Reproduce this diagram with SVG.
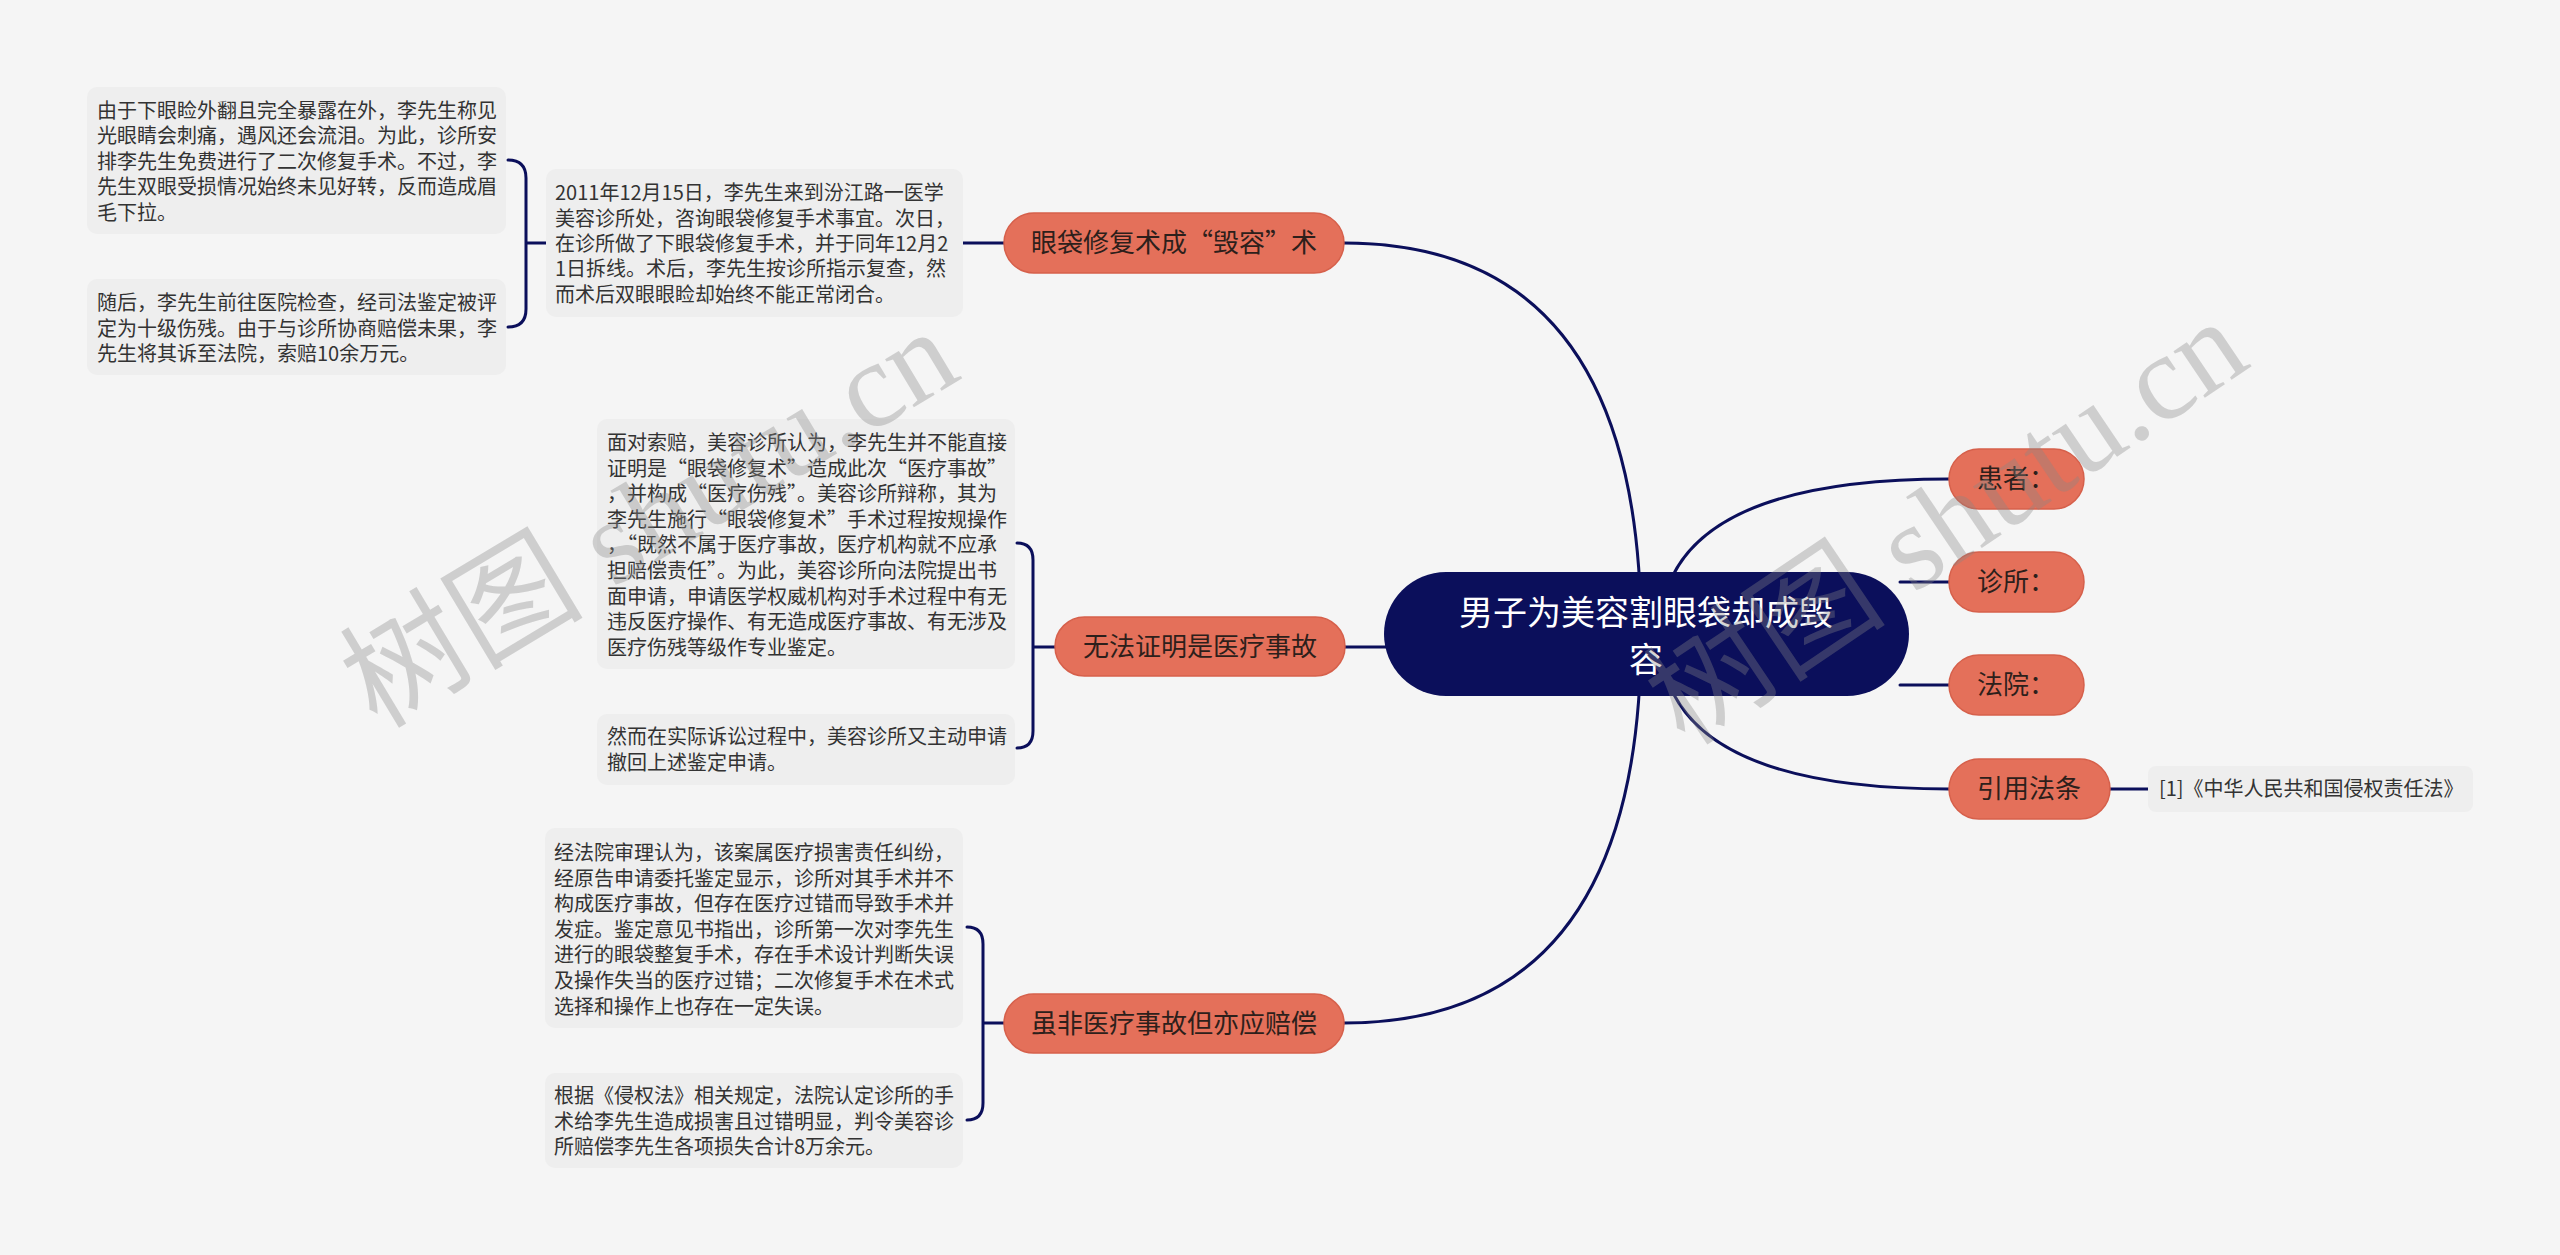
<svg xmlns="http://www.w3.org/2000/svg" width="2560" height="1255" viewBox="0 0 2560 1255">
<style>
.bg{fill:#f5f5f5}
.box{fill:#eeeeee}
.tx{font-family:"Noto Sans CJK SC","Noto Sans",sans-serif;font-size:20px;fill:#333333}
.main{fill:#e4705a;stroke:#d6604b;stroke-width:1.5}
.mt{font-family:"Noto Sans CJK SC","Noto Sans",sans-serif;font-size:26px;fill:#2d1f1b;text-anchor:middle}
.root{fill:#0b0f5b}
.rt{font-family:"Noto Sans CJK SC","Noto Sans",sans-serif;font-size:34px;fill:#ffffff;text-anchor:middle}
.ln{fill:none;stroke:#0b0f5b;stroke-width:3;stroke-linecap:round}
.wm{font-family:"Liberation Serif","Noto Sans CJK SC",serif;font-size:122px;fill:#888888;fill-opacity:0.35;text-anchor:middle}
</style>
<rect class="bg" x="0" y="0" width="2560" height="1255"/>

<g id="connectors">
<path class="ln" d="M1641 634 Q1641 243 1344 243"/>
<path class="ln" d="M1342 647 L1390 647"/>
<path class="ln" d="M1641 634 Q1641 1023 1344 1023"/>
<path class="ln" d="M1660 634 Q1660 479 1949 479"/>
<path class="ln" d="M1900 582 L1949 582"/>
<path class="ln" d="M1900 685 L1949 685"/>
<path class="ln" d="M1660 634 Q1660 789 1949 789"/>
<path class="ln" d="M2110 789 L2148 789"/>
<path class="ln" d="M963 243 L1004 243"/>
<path class="ln" d="M508 160 Q526 160 526 178 L526 309 Q526 327 508 327 M526 243 L546 243"/>
<path class="ln" d="M1017 543 Q1033 543 1033 560 L1033 731 Q1033 748 1017 748 M1033 647 L1055 647"/>
<path class="ln" d="M967 927 Q983 927 983 944 L983 1103 Q983 1120 967 1120 M983 1023 L1004 1023"/>
</g>

<g id="root">
<rect class="root" x="1384" y="572" width="525" height="124" rx="62"/>
<text class="rt" x="1646" y="625">男子为美容割眼袋却成毁</text>
<text class="rt" x="1646" y="672">容</text>
</g>

<g id="node-yandai">
<rect class="main" x="1004" y="213" width="340" height="60" rx="30"/>
<text class="mt" x="1174" y="252">眼袋修复术成“毁容”术</text>
</g>
<g id="node-wufa">
<rect class="main" x="1055" y="617" width="290" height="59" rx="29.5"/>
<text class="mt" x="1200" y="656">无法证明是医疗事故</text>
</g>
<g id="node-suifei">
<rect class="main" x="1004" y="994" width="340" height="59" rx="29.5"/>
<text class="mt" x="1174" y="1033">虽非医疗事故但亦应赔偿</text>
</g>
<g id="node-huanzhe">
<rect class="main" x="1949" y="449" width="135" height="60" rx="30"/>
<text class="mt" x="2016" y="488">患者：</text>
</g>
<g id="node-zhensuo">
<rect class="main" x="1949" y="552" width="135" height="60" rx="30"/>
<text class="mt" x="2016" y="591">诊所：</text>
</g>
<g id="node-fayuan">
<rect class="main" x="1949" y="655" width="135" height="60" rx="30"/>
<text class="mt" x="2016" y="694">法院：</text>
</g>
<g id="node-yinyong">
<rect class="main" x="1949" y="759" width="161" height="60" rx="30"/>
<text class="mt" x="2029" y="798">引用法条</text>
</g>

<g id="leaf-citation">
<rect class="box" x="2148" y="766" width="325" height="46" rx="8"/>
<text class="tx" x="2159" y="796">[1]《中华人民共和国侵权责任法》</text>
</g>

<g id="leaf-2011">
<rect class="box" x="546" y="169" width="417" height="148" rx="10"/>
<text class="tx" x="555">
<tspan x="555" y="200">2011年12月15日，李先生来到汾江路一医学</tspan>
<tspan x="555" y="226">美容诊所处，咨询眼袋修复手术事宜。次日，</tspan>
<tspan x="555" y="251">在诊所做了下眼袋修复手术，并于同年12月2</tspan>
<tspan x="555" y="276">1日拆线。术后，李先生按诊所指示复查，然</tspan>
<tspan x="555" y="302">而术后双眼眼睑却始终不能正常闭合。</tspan>
</text>
</g>

<g id="leaf-youyu">
<rect class="box" x="87" y="87" width="419" height="147" rx="10"/>
<text class="tx">
<tspan x="97" y="118">由于下眼睑外翻且完全暴露在外，李先生称见</tspan>
<tspan x="97" y="143">光眼睛会刺痛，遇风还会流泪。为此，诊所安</tspan>
<tspan x="97" y="169">排李先生免费进行了二次修复手术。不过，李</tspan>
<tspan x="97" y="194">先生双眼受损情况始终未见好转，反而造成眉</tspan>
<tspan x="97" y="220">毛下拉。</tspan>
</text>
</g>

<g id="leaf-suihou">
<rect class="box" x="87" y="279" width="419" height="96" rx="10"/>
<text class="tx">
<tspan x="97" y="310">随后，李先生前往医院检查，经司法鉴定被评</tspan>
<tspan x="97" y="336">定为十级伤残。由于与诊所协商赔偿未果，李</tspan>
<tspan x="97" y="361">先生将其诉至法院，索赔10余万元。</tspan>
</text>
</g>

<g id="leaf-miandui">
<rect class="box" x="597" y="419" width="418" height="250" rx="10"/>
<text class="tx">
<tspan x="607" y="450">面对索赔，美容诊所认为，李先生并不能直接</tspan>
<tspan x="607" y="475.6">证明是“眼袋修复术”造成此次“医疗事故”</tspan>
<tspan x="607" y="501.2">，并构成“医疗伤残”。美容诊所辩称，其为</tspan>
<tspan x="607" y="526.8">李先生施行“眼袋修复术”手术过程按规操作</tspan>
<tspan x="607" y="552.4">，“既然不属于医疗事故，医疗机构就不应承</tspan>
<tspan x="607" y="578">担赔偿责任”。为此，美容诊所向法院提出书</tspan>
<tspan x="607" y="603.6">面申请，申请医学权威机构对手术过程中有无</tspan>
<tspan x="607" y="629.2">违反医疗操作、有无造成医疗事故、有无涉及</tspan>
<tspan x="607" y="654.8">医疗伤残等级作专业鉴定。</tspan>
</text>
</g>

<g id="leaf-raner">
<rect class="box" x="597" y="714" width="418" height="71" rx="10"/>
<text class="tx">
<tspan x="607" y="744">然而在实际诉讼过程中，美容诊所又主动申请</tspan>
<tspan x="607" y="770">撤回上述鉴定申请。</tspan>
</text>
</g>

<g id="leaf-jingfayuan">
<rect class="box" x="545" y="828" width="418" height="200" rx="10"/>
<text class="tx">
<tspan x="554" y="860">经法院审理认为，该案属医疗损害责任纠纷，</tspan>
<tspan x="554" y="885.6">经原告申请委托鉴定显示，诊所对其手术并不</tspan>
<tspan x="554" y="911.2">构成医疗事故，但存在医疗过错而导致手术并</tspan>
<tspan x="554" y="936.8">发症。鉴定意见书指出，诊所第一次对李先生</tspan>
<tspan x="554" y="962.4">进行的眼袋整复手术，存在手术设计判断失误</tspan>
<tspan x="554" y="988">及操作失当的医疗过错；二次修复手术在术式</tspan>
<tspan x="554" y="1013.6">选择和操作上也存在一定失误。</tspan>
</text>
</g>

<g id="leaf-genju">
<rect class="box" x="545" y="1073" width="418" height="95" rx="10"/>
<text class="tx">
<tspan x="554" y="1103">根据《侵权法》相关规定，法院认定诊所的手</tspan>
<tspan x="554" y="1129">术给李先生造成损害且过错明显，判令美容诊</tspan>
<tspan x="554" y="1154">所赔偿李先生各项损失合计8万余元。</tspan>
</text>
</g>

<g id="watermarks">
<text class="wm" x="649" y="518" dominant-baseline="central" transform="rotate(-31 649 518)">树图 shutu.cn</text>
<text class="wm" x="1946" y="522" dominant-baseline="central" transform="rotate(-34 1946 522)">树图 shutu.cn</text>
</g>
</svg>
